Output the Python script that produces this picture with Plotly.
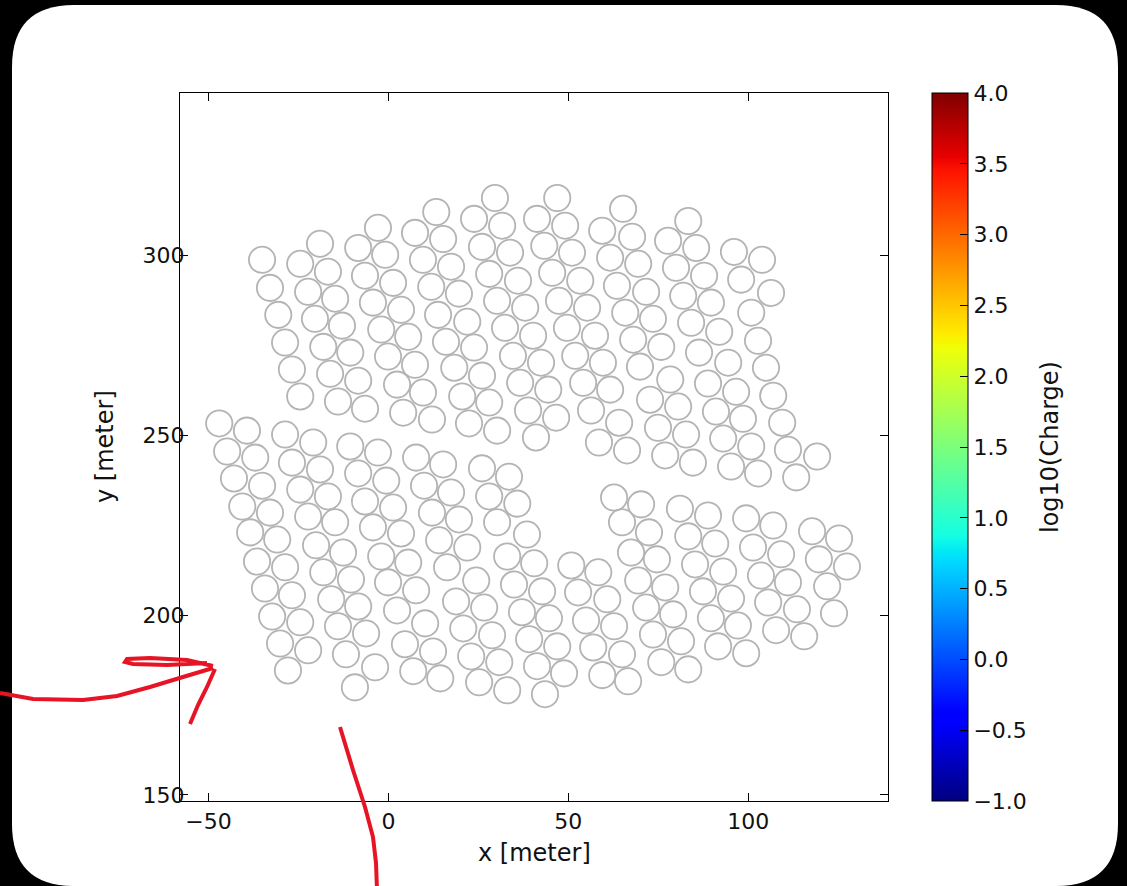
import plotly.graph_objects as go

# ---------------- data: tank centres [meter] ----------------
north_x = [
    -35.1, -32.9, -30.6, -28.7, -26.8, -24.5,
    -24.5, -22.3, -20.4, -18.1, -16.2, -14.0,
    -19.0, -16.8, -14.8, -12.9, -10.6, -8.4, -6.5,
    -8.4, -6.5, -4.3, -2.0, -0.1, 2.4, 4.1,
    -2.9, -0.9, 1.3, 3.5, 5.5, 7.4, 9.6, 12.1,
    7.4, 9.6, 11.9, 13.8, 16.0, 18.3, 20.5, 22.4,
    13.3, 15.2, 17.4, 19.6, 21.9, 23.8, 26.0, 28.0, 30.2,
    23.8, 26.0, 28.0, 30.2, 32.4, 34.6, 36.6, 38.8, 41.0,
    29.6, 31.6, 33.8, 36.0, 38.0, 40.2, 42.4, 44.4, 46.6,
    41.3, 43.3, 45.5, 47.4, 49.6, 51.9, 54.1, 56.3, 58.5,
    46.9, 49.1, 51.0, 53.3, 55.2, 57.4, 59.6, 61.6, 64.1, 66.3,
    59.4, 61.6, 63.5, 65.8, 68.0, 69.9,
    65.2, 67.7, 69.4, 71.6, 73.5, 75.8,
    78.3, 72.7, 80.5, 74.9, 82.7, 76.9, 84.6,
    77.7, 79.9, 81.9, 84.1, 86.3, 88.8, 91.0, 93.0, 95.2,
    83.3, 85.5, 87.7, 89.6, 91.9, 94.4, 96.6, 98.5, 100.8, 102.7,
    96.0, 103.8, 98.0, 106.3, 100.8, 102.7, 104.9, 106.9, 109.4, 111.0, 119.1, 113.3,
]
north_y = [
    298.8, 291.0, 283.5, 275.8, 268.3, 260.8,
    297.7, 289.9, 282.4, 274.6, 267.1, 259.4,
    303.3, 295.5, 288.0, 280.5, 273.0, 265.2, 257.4,
    302.1, 294.4, 286.9, 279.4, 271.9, 264.1, 256.3,
    307.7, 300.2, 292.4, 284.9, 277.4, 269.6, 261.9, 254.4,
    306.3, 298.8, 291.3, 283.5, 276.0, 268.8, 260.8, 253.3,
    312.1, 304.6, 296.9, 289.4, 281.6, 274.4, 266.6, 259.1, 251.3,
    310.2, 302.4, 294.9, 287.4, 279.9, 272.1, 264.6, 256.9, 249.4,
    316.0, 308.3, 300.8, 293.0, 285.5, 277.7, 270.2, 262.7, 254.9,
    310.2, 302.7, 295.2, 287.4, 279.9, 272.1, 264.6, 256.9, 248.0,
    316.0, 308.3, 300.8, 293.0, 285.5, 277.7, 270.2, 262.7, 253.5, 245.8,
    306.9, 299.4, 291.6, 284.1, 276.6, 269.1,
    313.0, 305.2, 297.7, 289.9, 282.4, 274.6,
    265.5, 259.9, 258.0, 252.1, 250.2, 244.4, 242.4,
    304.1, 296.6, 288.8, 281.3, 273.0, 264.4, 256.6, 249.1, 241.3,
    309.6, 302.1, 294.4, 286.9, 278.8, 270.2, 262.1, 254.6, 246.9, 239.4,
    301.0, 298.8, 293.3, 289.6, 284.1, 276.3, 268.8, 261.0, 253.5, 246.0, 244.1, 238.3,
]
south_x = [
    -47.0, -44.8, -42.9, -40.6, -38.4, -36.5, -34.3, -32.3, -30.1, -27.9,
    -39.3, -37.0, -35.1, -32.9, -30.9, -28.7, -26.8, -24.5, -22.3,
    -28.7, -26.8, -24.5, -22.3, -20.1, -18.1, -15.9, -14.0, -11.8, -9.3,
    -20.9, -19.0, -16.8, -14.8, -12.6, -10.4, -8.4, -6.2, -3.7,
    -10.6, -8.4, -6.5, -4.3, -2.0, -0.1, 2.4, 4.6, 6.9,
    -2.9, -0.6, 1.3, 3.5, 5.5, 7.7, 10.2, 12.4, 14.4,
    7.7, 9.9, 12.1, 14.1, 16.3, 15.2, 17.4, 19.6, 21.9,
    26.0, 33.5, 28.0, 35.8, 30.2, 38.5,
    24.4, 18.8, 26.6, 20.8, 28.8, 23.0, 30.8, 25.2, 33.0,
    33.0, 40.5, 34.9, 42.7, 37.1, 44.6, 39.1, 46.9, 41.3, 48.8, 43.5,
    50.8, 58.3, 52.7, 60.8, 54.9, 62.7, 56.9, 64.9, 59.4, 66.6,
    62.7, 70.2, 64.9, 72.4, 67.4, 74.6, 69.4, 76.9, 71.6, 79.1, 73.5, 81.3, 75.8, 83.3,
    81.0, 88.8, 83.3, 90.8, 85.2, 93.0, 87.4, 95.2, 89.6, 97.1, 91.6, 99.4,
    99.4, 106.9, 101.3, 109.1, 103.5, 111.0, 105.5, 113.5, 107.7, 115.5,
    117.7, 125.2, 119.6, 127.4, 121.9, 123.8,
]
south_y = [
    253.3, 245.5, 238.0, 230.2, 223.0, 214.9, 207.4, 199.6, 192.1, 184.6,
    251.3, 243.8, 236.0, 228.5, 221.0, 213.3, 205.5, 198.0, 190.2,
    250.2, 242.4, 234.9, 227.4, 219.4, 211.9, 204.4, 196.9, 189.1, 179.9,
    248.0, 240.5, 233.0, 225.8, 217.4, 209.9, 202.4, 194.9, 185.5,
    246.9, 239.4, 231.6, 224.4, 216.3, 209.1, 201.3, 191.9, 184.4,
    245.2, 237.4, 229.9, 222.7, 214.6, 206.9, 197.7, 189.9, 182.4,
    243.8, 236.0, 228.5, 220.8, 213.3, 241.9, 234.1, 226.6, 218.8,
    240.8, 238.5, 233.0, 231.0, 225.8, 222.4,
    209.6, 203.8, 202.1, 196.3, 194.4, 188.5, 186.9, 181.3, 179.1,
    216.3, 214.4, 208.5, 206.6, 200.8, 199.1, 193.3, 191.3, 185.8, 183.8, 178.0,
    213.8, 211.9, 206.3, 204.4, 198.5, 196.9, 191.0, 189.1, 183.3, 181.6,
    232.7, 230.8, 225.8, 223.0, 217.4, 215.5, 209.6, 207.7, 202.1, 200.2, 194.6, 192.7, 186.9, 184.9,
    229.6, 227.7, 221.9, 219.9, 214.1, 212.1, 206.6, 204.6, 199.1, 197.1, 191.3, 189.4,
    226.9, 224.9, 218.8, 216.9, 211.0, 209.1, 203.5, 201.6, 195.8, 194.1,
    223.3, 221.3, 215.5, 213.5, 208.0, 200.5,
]
x_ticks = [-50, 0, 50, 100]
y_ticks = [150, 200, 250, 300]
cbar_ticks = [-1.0, -0.5, 0.0, 0.5, 1.0, 1.5, 2.0, 2.5, 3.0, 3.5, 4.0]
charge_min, charge_max = -1.0, 4.0

# ---------------- style / geometry ----------------
W, H = 1127, 886
PL, PR, PT, PB = 180, 888, 93, 801          # plot area in pixels
PW = PR - PL
PH = PB - PT
TANK_R = 3.65
TXT = "#111111"
FONT = "DejaVu Sans"

# matplotlib "jet"
jet = [
    [0.0, "rgb(0,0,128)"], [0.11, "rgb(0,0,255)"], [0.125, "rgb(0,0,255)"],
    [0.34, "rgb(0,219,255)"], [0.35, "rgb(0,230,247)"], [0.375, "rgb(21,255,226)"],
    [0.64, "rgb(239,255,8)"], [0.65, "rgb(247,245,0)"], [0.66, "rgb(255,236,0)"],
    [0.89, "rgb(255,19,0)"], [0.91, "rgb(232,0,0)"], [1.0, "rgb(128,0,0)"],
]


def px_to_paper(px, py):
    return (px - PL) / PW, (PB - py) / PH


def path_from_px(points, close=False):
    parts = []
    for i, (px, py) in enumerate(points):
        xp, yp = px_to_paper(px, py)
        parts.append(("M" if i == 0 else "L") + f"{xp:.5f},{yp:.5f}")
    s = " ".join(parts)
    return s + (" Z" if close else "")


def rounded_rect(x0, y0, x1, y1, r):
    def P(px, py):
        xp, yp = px_to_paper(px, py)
        return f"{xp:.5f},{yp:.5f}"
    return (f"M{P(x0 + r, y0)} L{P(x1 - r, y0)} Q{P(x1, y0)} {P(x1, y0 + r)} "
            f"L{P(x1, y1 - r)} Q{P(x1, y1)} {P(x1 - r, y1)} "
            f"L{P(x0 + r, y1)} Q{P(x0, y1)} {P(x0, y1 - r)} "
            f"L{P(x0, y0 + r)} Q{P(x0, y0)} {P(x0 + r, y0)} Z")


fig = go.Figure()

# invisible trace that carries the colour bar
fig.add_trace(go.Scatter(
    x=[None], y=[None], mode="markers", showlegend=False, hoverinfo="skip",
    marker=dict(
        color=[charge_min], cmin=charge_min, cmax=charge_max, colorscale=jet,
        showscale=True,
        colorbar=dict(
            x=(932 - PL) / PW, xanchor="left", xpad=0, ypad=0,
            y=0.5, yanchor="middle", len=1.0, lenmode="fraction",
            thickness=36, outlinewidth=1, outlinecolor="black",
            tickvals=cbar_ticks, tickformat=".1f", ticks="inside", ticklen=8,
            tickcolor="black", tickwidth=1,
            tickfont=dict(family=FONT, size=22, color=TXT),
        ),
    ),
))

shapes = []
# white rounded card
shapes.append(dict(type="path", xref="paper", yref="paper", layer="below",
                   path=rounded_rect(12, 5, 1118, 886, 62),
                   fillcolor="white", line=dict(width=0)))

# tanks
for xs, ys in ((north_x, north_y), (south_x, south_y)):
    for cx, cy in zip(xs, ys):
        shapes.append(dict(type="circle", xref="x", yref="y",
                           x0=cx - TANK_R, x1=cx + TANK_R,
                           y0=cy - TANK_R, y1=cy + TANK_R,
                           line=dict(color="#b4b4b4", width=1.8)))

# hand-drawn red marks
red = dict(color="rgb(230,20,36)", width=4)
strokes = [
    [(0, 693), (33, 699), (83, 700), (117, 696), (150, 687), (183, 677), (213, 668)],
    [(213, 666), (187, 660), (150, 658), (127, 659), (125, 662), (133, 664), (167, 665), (207, 663)],
    [(215, 669), (207, 687), (198, 705), (190, 724)],
    [(340, 727), (353, 770), (365, 807), (373, 837), (376, 863), (377, 890)],
]
for s in strokes:
    shapes.append(dict(type="path", xref="paper", yref="paper", layer="above",
                       path=path_from_px(s), line=red))

annotations = [
    dict(text="x [meter]", xref="paper", yref="paper", x=0.5,
         y=(PB - 853) / PH, xanchor="center", yanchor="middle", showarrow=False,
         font=dict(family=FONT, size=24, color=TXT)),
    dict(text="y [meter]", xref="paper", yref="paper", x=(105 - PL) / PW,
         y=0.5, xanchor="center", yanchor="middle", showarrow=False, textangle=-90,
         font=dict(family=FONT, size=24, color=TXT)),
    dict(text="log10(Charge)", xref="paper", yref="paper", x=(1050 - PL) / PW,
         y=0.5, xanchor="center", yanchor="middle", showarrow=False, textangle=-90,
         font=dict(family=FONT, size=24, color=TXT)),
]

axis_common = dict(
    showgrid=False, zeroline=False, showline=True, linecolor="black", linewidth=1.2,
    mirror="ticks", ticks="inside", ticklen=8, tickwidth=1, tickcolor="black",
    tickfont=dict(family=FONT, size=22, color=TXT),
)

fig.update_layout(
    width=W, height=H,
    margin=dict(l=PL, r=W - PR, t=PT, b=H - PB, autoexpand=False),
    paper_bgcolor="black", plot_bgcolor="rgba(0,0,0,0)",
    xaxis=dict(range=[-57.9, 138.8], tickvals=x_ticks, **axis_common),
    yaxis=dict(range=[148.3, 345.2], tickvals=y_ticks, ticklabelstandoff=-10,
               **axis_common),
    shapes=shapes, annotations=annotations, showlegend=False,
)

fig.write_html(
    "out.html",
    config={"displayModeBar": False},
    post_script="document.body.style.margin='0';document.body.style.padding='0';"
                "document.body.style.overflow='hidden';",
)
